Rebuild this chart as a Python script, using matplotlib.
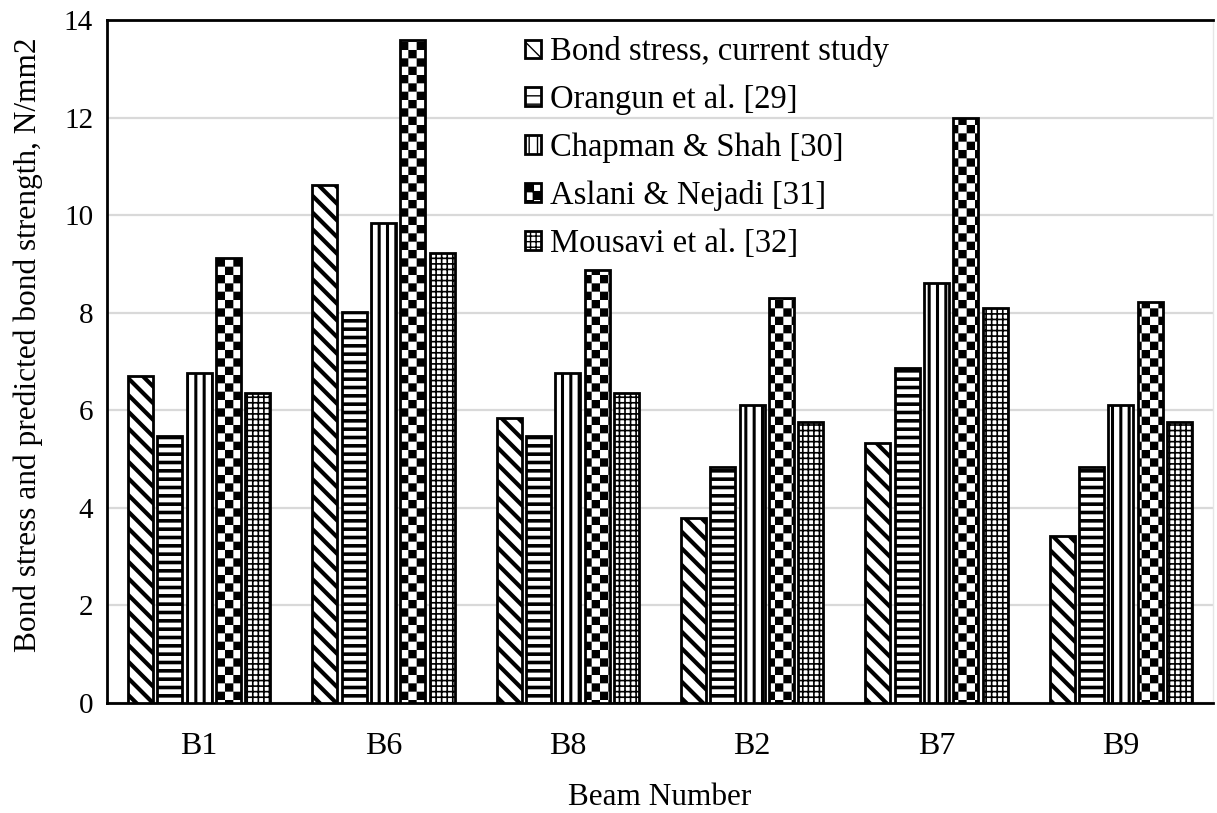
import warnings
warnings.filterwarnings("ignore")
import numpy as np
import matplotlib
matplotlib.use("Agg")
import matplotlib.pyplot as plt
from matplotlib import hatch as mhatch
from matplotlib.path import Path

# ---------------- data ----------------
beams = ["B1", "B6", "B8", "B2", "B7", "B9"]
series_names = ["Bond stress, current study", "Orangun et al. [29]",
                "Chapman & Shah [30]", "Aslani & Nejadi [31]", "Mousavi et al. [32]"]
bond_current = [6.70, 10.62, 5.84, 3.79, 5.33, 3.42]
orangun = [5.47, 8.01, 5.47, 4.84, 6.87, 4.84]
chapman = [6.77, 9.84, 6.76, 6.11, 8.61, 6.11]
aslani = [9.12, 13.59, 8.87, 8.30, 11.99, 8.22]
mousavi = [6.35, 9.22, 6.35, 5.76, 8.10, 5.76]
yticks = [0, 2, 4, 6, 8, 10, 12, 14]


# ------------- custom checkerboard hatch -------------
class CheckerHatch(mhatch.HatchPatternBase):
    def __init__(self, hatch, density):
        self.n = int(hatch.count('c') * density) * 2
        self.cells = [(i, j) for i in range(self.n) for j in range(self.n)
                      if (i + j) % 2 == 0]
        self.num_vertices = len(self.cells) * 5

    def set_vertices_and_codes(self, vertices, codes):
        s = 1.0 / self.n
        k = 0
        for (i, j) in self.cells:
            x0, y0 = i * s, j * s
            vertices[k:k + 5] = [(x0, y0), (x0 + s, y0), (x0 + s, y0 + s),
                                 (x0, y0 + s), (x0, y0)]
            codes[k:k + 5] = [Path.MOVETO, Path.LINETO, Path.LINETO,
                              Path.LINETO, Path.CLOSEPOLY]
            k += 5


if CheckerHatch not in mhatch._hatch_types:
    mhatch._hatch_types.append(CheckerHatch)

plt.rcParams['font.family'] = ['Liberation Serif', 'DejaVu Serif']

fig = plt.figure(figsize=(12.17, 8.13), dpi=100)
ax = fig.add_axes([107 / 1217, 110 / 813, 1106 / 1217, 683 / 813])

series = [bond_current, orangun, chapman, aslani, mousavi]
hatches = ['\\\\', '--', '||', 'c', '+++']
hatch_lws = [3.0, 2.6, 2.2, 0.01, 1.2]

x = np.arange(len(beams))
pitch = 0.159
width = 0.136
for i, (vals, h, hlw, name) in enumerate(zip(series, hatches, hatch_lws, series_names)):
    with plt.rc_context({'hatch.linewidth': hlw, 'hatch.color': 'black'}):
        bars = ax.bar(x + (i - 2) * pitch, vals, width, facecolor='white',
                      edgecolor='black', linewidth=2.0, hatch=h, zorder=3,
                      label=name)
        for p in bars.patches:
            if hasattr(p, 'set_hatch_linewidth'):
                p.set_hatch_linewidth(hlw)

ax.set_xlim(-0.5, len(beams) - 0.5)
ax.set_ylim(0, 14)
ax.set_yticks(yticks)
ax.set_yticklabels([str(t) for t in yticks])
ax.set_xticks(x)
ax.set_xticklabels(beams)
ax.tick_params(axis='both', length=0, colors='black')
ax.tick_params(axis='x', pad=21, labelsize=23)
ax.tick_params(axis='y', pad=10, labelsize=21)

ax.yaxis.grid(True, color='#d9d9d9', linewidth=1.6, zorder=0)
ax.set_axisbelow(True)

for s in ['left', 'top', 'bottom']:
    ax.spines[s].set_color('black')
    ax.spines[s].set_linewidth(2.0)
ax.spines['right'].set_color('#e6e6e6')
ax.spines['right'].set_linewidth(1.0)

ax.set_xlabel('Beam Number', fontsize=22.5, labelpad=16)
ax.set_ylabel('Bond stress and predicted bond strength, N/mm2', fontsize=22.6)
ax.yaxis.set_label_coords(-0.058, 0.524)

leg = ax.legend(loc='upper left', bbox_to_anchor=(0.378, 0.976), frameon=False,
                fontsize=23.5, handlelength=0.5, handleheight=0.5,
                handletextpad=0.25, labelspacing=0.53, borderpad=0,
                borderaxespad=0)

fig.savefig('out.png', dpi=100, facecolor='white')
